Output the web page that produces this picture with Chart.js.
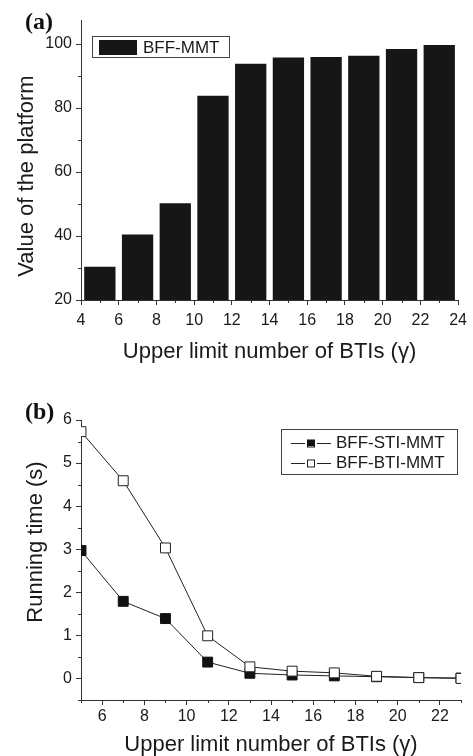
<!DOCTYPE html>
<html>
<head>
<meta charset="utf-8">
<script src="https://cdn.jsdelivr.net/npm/chart.js@4/dist/chart.umd.min.js"></script>
<style>
html,body{margin:0;padding:0;background:#fff;width:473px;height:756px;overflow:hidden;}
.wrap{position:absolute;left:0;width:473px;height:378px;}
#wa{top:0;}
#wb{top:378px;}
.lab{position:absolute;font:bold 24px "Liberation Serif","Times New Roman",serif;line-height:1;color:#111;}
</style>
</head>
<body>
<div class="wrap" id="wa"><canvas id="ca" width="473" height="378"></canvas></div>
<div class="wrap" id="wb"><canvas id="cb" width="473" height="378"></canvas></div>
<div class="lab" style="left:25px;top:9px">(a)</div>
<div class="lab" style="left:25px;top:399px">(b)</div>
<script>
// ---------- data ----------
const barCategories = [5, 7, 9, 11, 13, 15, 17, 19, 21, 23];
const barValues = [30.4, 40.5, 50.2, 83.8, 93.8, 95.8, 95.9, 96.3, 98.4, 99.7];
const barSeriesName = 'BFF-MMT';

const lineCategories = [5, 7, 9, 11, 13, 15, 17, 19, 21, 23];
const stiValues = [2.97, 1.79, 1.39, 0.38, 0.12, 0.08, 0.06, 0.04, 0.02, 0.01];
const btiValues = [5.73, 4.59, 3.03, 0.99, 0.27, 0.17, 0.13, 0.05, 0.02, 0.0];
const lineSeriesNames = ['BFF-STI-MMT', 'BFF-BTI-MMT'];

// tick labels
const xTicksA = [4, 6, 8, 10, 12, 14, 16, 18, 20, 22, 24];
const yTicksA = [20, 40, 60, 80, 100];
const xTicksB = [6, 8, 10, 12, 14, 16, 18, 20, 22];
const yTicksB = [0, 1, 2, 3, 4, 5, 6];

const xTitle = 'Upper limit number of BTIs (\u03B3)';
const yTitleA = 'Value of the platform';
const yTitleB = 'Running time (s)';

// ---------- style ----------
const FONT = '"Liberation Sans", Arial, sans-serif';
const AXIS = '#333';
const TEXT = '#1a1a1a';

const minorTicks = {
  id: 'minorTicks',
  afterDraw(chart) {
    const ctx = chart.ctx;
    ctx.save();
    ctx.strokeStyle = AXIS;
    ctx.lineWidth = 1;
    for (const id of ['x', 'y']) {
      const s = chart.scales[id];
      const vals = s.ticks.map(t => t.value);
      if (vals.length < 2) continue;
      const step = vals[1] - vals[0];
      const mins = [];
      for (const v of vals) {
        for (const m of [v - step / 2, v + step / 2]) {
          if (m >= s.min - 1e-9 && m <= s.max + 1e-9 && !mins.some(q => Math.abs(q - m) < 1e-9)) mins.push(m);
        }
      }
      for (const m of mins) {
        const p = Math.round(s.getPixelForValue(m)) + 0.5;
        ctx.beginPath();
        if (s.isHorizontal()) { ctx.moveTo(p, s.top); ctx.lineTo(p, s.top + 3); }
        else { ctx.moveTo(s.right, p); ctx.lineTo(s.right - 3, p); }
        ctx.stroke();
      }
    }
    ctx.restore();
  }
};

// shifts the y-axis title along the axis (layout only)
const yTitleShift = {
  id: 'yTitleShift',
  afterLayout(chart, args, opts) {
    const s = chart.scales.y;
    if (s.__shifted) return;
    const orig = s.drawTitle.bind(s);
    s.drawTitle = function () {
      const ctx = chart.ctx;
      ctx.save();
      ctx.translate(0, opts.dy || 0);
      orig();
      ctx.restore();
    };
    s.__shifted = true;
  }
};

const legendA = {
  id: 'legendA',
  afterDraw(chart) {
    const ctx = chart.ctx;
    const ds = chart.data.datasets[0];
    const a = chart.chartArea;
    const x0 = a.left + 11, y0 = a.top + 16;
    ctx.save();
    ctx.strokeStyle = '#444';
    ctx.lineWidth = 1;
    ctx.strokeRect(x0 + 0.5, y0 + 0.5, 137, 21);
    ctx.fillStyle = ds.backgroundColor;
    ctx.fillRect(x0 + 7, y0 + 4, 38, 15);
    ctx.fillStyle = TEXT;
    ctx.font = '17px ' + FONT;
    ctx.textBaseline = 'middle';
    ctx.textAlign = 'left';
    ctx.fillText(ds.label, x0 + 51, y0 + 12);
    ctx.restore();
  }
};

const legendB = {
  id: 'legendB',
  afterDraw(chart) {
    const ctx = chart.ctx;
    const a = chart.chartArea;
    const x0 = a.left + 200, y0 = a.top + 9;
    ctx.save();
    ctx.strokeStyle = '#444';
    ctx.lineWidth = 1;
    ctx.strokeRect(x0 + 0.5, y0 + 0.5, 176, 45);
    ctx.font = '17px ' + FONT;
    ctx.textBaseline = 'middle';
    ctx.textAlign = 'left';
    chart.data.datasets.forEach((ds, i) => {
      const cy = Math.round(y0 + 14 + i * 20) + 0.5;
      ctx.strokeStyle = ds.borderColor;
      ctx.beginPath();
      ctx.moveTo(x0 + 10, cy); ctx.lineTo(x0 + 24, cy);
      ctx.moveTo(x0 + 36, cy); ctx.lineTo(x0 + 50, cy);
      ctx.stroke();
      ctx.fillStyle = ds.pointBackgroundColor;
      ctx.fillRect(x0 + 27, cy - 3.5, 6, 6);
      ctx.strokeStyle = ds.pointBorderColor;
      ctx.strokeRect(x0 + 26.5, cy - 3.5, 7, 7);
      ctx.fillStyle = TEXT;
      ctx.fillText(ds.label, x0 + 55, cy);
    });
    ctx.restore();
  }
};

function scaleBase(opts) {
  return {
    type: 'linear',
    offset: false,
    min: opts.min, max: opts.max,
    grid: { drawOnChartArea: false, drawTicks: true, tickLength: 5, color: AXIS, tickWidth: 1, offset: false },
    border: { display: true, color: AXIS, width: 1 },
    ticks: { color: TEXT, padding: opts.pad,
             font: { family: FONT, size: 16 }, maxRotation: 0, autoSkip: false },
    afterBuildTicks: s => { s.ticks = opts.ticks.map(v => ({ value: v })); },
    title: { display: true, text: opts.title, color: TEXT, font: { family: FONT, size: 22, lineHeight: 1 },
             padding: opts.titlePad },
    afterFit: opts.fit
  };
}

// ---------- chart (a) ----------
new Chart(document.getElementById('ca'), {
  type: 'bar',
  data: {
    datasets: [{
      label: barSeriesName,
      data: barCategories.map((c, i) => ({ x: c, y: barValues[i] })),
      backgroundColor: '#161616',
      borderWidth: 0,
      barPercentage: 0.83,
      categoryPercentage: 1
    }]
  },
  options: {
    responsive: false,
    animation: false,
    devicePixelRatio: 1,
    layout: { padding: { top: 20, right: 12, left: 0, bottom: 0 } },
    plugins: { legend: { display: false }, tooltip: { enabled: false }, yTitleShift: { dy: 16 } },
    scales: {
      x: scaleBase({ min: 4, max: 24, ticks: xTicksA, pad: 6, title: xTitle,
                     titlePad: { top: 0, bottom: 15 }, fit: s => { s.height = 78; } }),
      y: scaleBase({ min: 20, max: 107.5, ticks: yTicksA, pad: 4, title: yTitleA,
                     titlePad: { top: 16, bottom: 0 }, fit: s => { s.width = 81; } })
    }
  },
  plugins: [minorTicks, yTitleShift, legendA]
});

// ---------- chart (b) ----------
new Chart(document.getElementById('cb'), {
  type: 'line',
  data: {
    datasets: [
      {
        label: lineSeriesNames[0],
        data: lineCategories.map((c, i) => ({ x: c, y: stiValues[i] })),
        borderColor: '#222', borderWidth: 1, tension: 0,
        pointStyle: 'rect', pointRadius: 7, pointBorderWidth: 1,
        pointBackgroundColor: '#111', pointBorderColor: '#111',
        order: 2
      },
      {
        label: lineSeriesNames[1],
        data: lineCategories.map((c, i) => ({ x: c, y: btiValues[i] })),
        borderColor: '#222', borderWidth: 1, tension: 0,
        pointStyle: 'rect', pointRadius: 7, pointBorderWidth: 1,
        pointBackgroundColor: '#fff', pointBorderColor: '#222',
        order: 1
      }
    ]
  },
  options: {
    responsive: false,
    animation: false,
    devicePixelRatio: 1,
    layout: { padding: { top: 42, right: 12, left: 0, bottom: 0 } },
    plugins: { legend: { display: false }, tooltip: { enabled: false }, yTitleShift: { dy: -18 } },
    scales: {
      x: scaleBase({ min: 5, max: 23, ticks: xTicksB, pad: 2, title: xTitle,
                     titlePad: { top: 0, bottom: 0 }, fit: s => { s.height = 56; } }),
      y: scaleBase({ min: -0.5, max: 6, ticks: yTicksB, pad: 4, title: yTitleB,
                     titlePad: { top: 25, bottom: 0 }, fit: s => { s.width = 81; } })
    }
  },
  plugins: [minorTicks, yTitleShift, legendB]
});
</script>
</body>
</html>
